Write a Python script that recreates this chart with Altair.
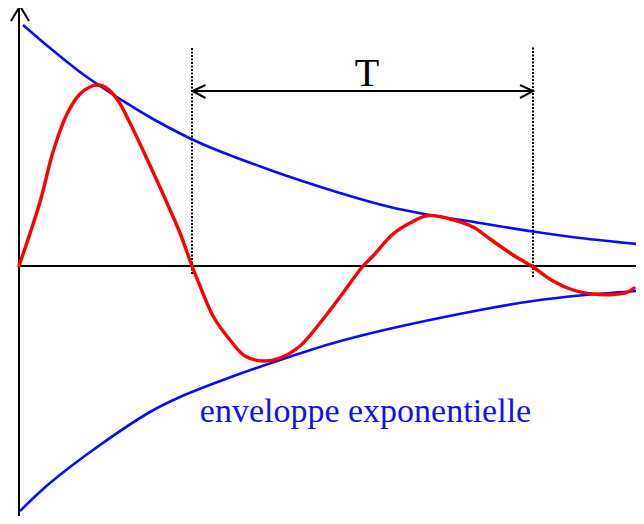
import altair as alt
import pandas as pd

# Damped oscillation (time t, amplitude y); origin at axes crossing
red_t = [0, 21, 34, 48, 61, 73, 80, 86, 98, 111, 128, 144, 161, 173, 181, 194, 211, 226, 244,
         261, 281, 301, 321, 344, 354, 374, 391, 409, 431, 454, 471, 494, 514, 534, 554, 574,
         594, 608, 615]
red_y = [0, 64, 114, 152, 172, 180, 181, 179, 167, 143, 107, 72, 33, 0, -20, -50, -74, -90, -95,
         -92, -80, -57, -31, 0, 10, 32, 43, 50.5, 47, 39, 27, 11, -1, -15, -24, -28,
         -28.5, -26.5, -22]

# Exponential envelopes
upper_t = [4, 31, 61, 81, 101, 134, 181, 251, 321, 371, 411, 461, 514, 561, 618]
upper_y = [241, 218, 194, 180, 167, 147, 123, 96, 73, 59, 51, 43, 34.5, 28, 22]
lower_t = [1, 31, 81, 131, 161, 208, 261, 311, 361, 461, 514, 561, 618]
lower_y = [-245, -217, -179, -146, -131, -112.5, -94, -78, -65, -44, -35, -29.5, -25]

# Period marker
period_start = 173.5
period_end = 514
period_label = "T"
envelope_label = "enveloppe exponentielle"

xs = alt.Scale(domain=[-11, 617], nice=False, zero=False)
ys = alt.Scale(domain=[-250, 258], nice=False, zero=False)

def X(f="x"):
    return alt.X(f"{f}:Q", scale=xs, axis=None)

def Y(f="y"):
    return alt.Y(f"{f}:Q", scale=ys, axis=None)

red_df = pd.DataFrame({"x": red_t, "y": red_y})
env_df = pd.concat([
    pd.DataFrame({"x": upper_t, "y": upper_y, "g": "up", "o": range(len(upper_t))}),
    pd.DataFrame({"x": lower_t, "y": lower_y, "g": "low", "o": range(len(lower_t))}),
])

axes_df = pd.DataFrame({"x": [0, 0], "x2": [0, 625], "y": [-258, 0], "y2": [260, 0]})
heads = []
def head(name, pts):
    for i, (a, b) in enumerate(pts):
        heads.append({"x": a, "y": b, "g": name, "o": i})
head("up", [(-8, 245), (1, 260), (10, 245)])
head("right", [(618, 8), (625, 0), (618, -8)])
head("pl", [(period_start + 13, 181), (period_start, 175), (period_start + 13, 168)])
head("pr", [(period_end - 13, 181), (period_end, 175), (period_end - 13, 168)])
heads_df = pd.DataFrame(heads)

span_df = pd.DataFrame({"x": [period_start], "x2": [period_end], "y": [175], "y2": [175]})
dots_df = pd.DataFrame({"x": [period_start - 0.5, period_end], "y": [-8, -11], "y2": [218, 220]})
txt_df = pd.DataFrame({"x": [348, 346.5], "y": [180, -156], "t": [period_label, envelope_label],
                       "s": [40, 34], "c": ["black", "#1010ff"]})

axes = alt.Chart(axes_df).mark_rule(color="black", strokeWidth=2).encode(
    x=X(), x2="x2:Q", y=Y(), y2="y2:Q")
arrowheads = alt.Chart(heads_df).mark_line(color="black", strokeWidth=2).encode(
    x=X(), y=Y(), detail="g:N", order="o:Q")
span = alt.Chart(span_df).mark_rule(color="black", strokeWidth=2).encode(
    x=X(), x2="x2:Q", y=Y(), y2="y2:Q")
dots = alt.Chart(dots_df).mark_rule(color="black", strokeWidth=2, strokeDash=[2, 1.5]).encode(
    x=X(), y=Y(), y2="y2:Q")
env = alt.Chart(env_df).mark_line(color="#0a0aff", strokeWidth=2.6, interpolate="catmull-rom").encode(
    x=X(), y=Y(), detail="g:N", order="o:Q")
red = alt.Chart(red_df).mark_line(color="#ff0000", strokeWidth=3.4, interpolate="catmull-rom",
                                   strokeCap="round", strokeJoin="round").encode(x=X(), y=Y())
txt = alt.Chart(txt_df).mark_text(font="Liberation Serif", align="center", baseline="alphabetic").encode(
    x=X(), y=Y(), text="t:N",
    size=alt.Size("s:Q", scale=None, legend=None),
    color=alt.Color("c:N", scale=None, legend=None))

chart = alt.layer(axes, dots, span, arrowheads, env, red, txt).properties(
    width=628, height=508, padding=0, autosize=alt.AutoSizeParams(type="none")
).configure_view(stroke=None)

chart.save("out.html", embed_options={"renderer": "svg", "actions": False})
